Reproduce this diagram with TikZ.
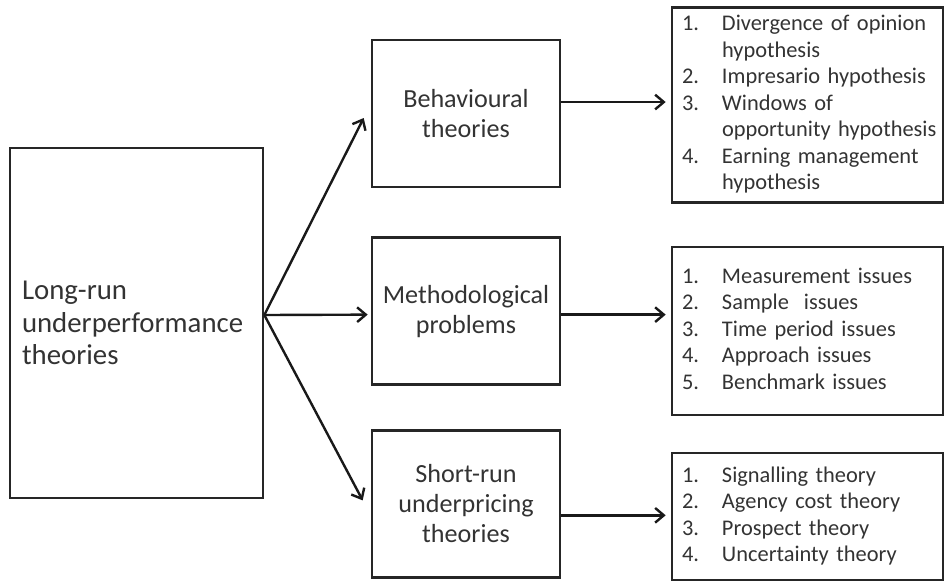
\documentclass[tikz,border=0pt]{standalone}
\usepackage{fontspec}
\setmainfont{Carlito}
\usetikzlibrary{arrows.meta, positioning}

\begin{document}
\begin{tikzpicture}[x=0.75pt, y=-0.75pt,
    mainbox/.style={rectangle, draw=black!85, line width=2pt, text=black!80, minimum width=189.75pt, minimum height=262.5pt, text width=171.75pt, inner xsep=9pt, align=left, font=\fontsize{21.6}{24.4}\selectfont},
    theory/.style={rectangle, draw=black!85, line width=2pt, text=black!80, minimum width=141pt, minimum height=110.25pt, align=center, font=\fontsize{19.6}{22.5}\selectfont},
    listbox/.style={rectangle, draw=black!85, line width=2pt, text=black!80, minimum width=203.25pt, text width=188.25pt, inner xsep=7.5pt, align=left, font=\fontsize{16.8}{19.9}\selectfont},
    link/.style={draw=black!90, line width=1.8pt, -{Straight Barb[length=6.5pt, width=11pt]}}
 ]

\useasboundingbox (0,0) rectangle (945,582);

\node[mainbox] (LongRun) at (136.5,323) {Long-run\\underperformance\\theories};

\node[theory] (Behavioural) at (466,113.5) {Behavioural\\theories};
\node[theory, below=36pt of Behavioural] (Methodological) {Methodological\\problems};
\node[theory, below=32.25pt of Methodological] (ShortRun) {Short-run\\underpricing\\theories};

\node[listbox, minimum height=145.5pt] (BehaviouralList) at (807.5,105) {\begin{tabular}{@{}p{30pt}@{}l@{}}
1. & Divergence of opinion\\
   & hypothesis\\
2. & Impresario hypothesis\\
3. & Windows of\\
   & opportunity hypothesis\\
4. & Earning management\\
   & hypothesis
\end{tabular}};
\node[listbox, minimum height=126pt] (MethodList) at (807.5,331) {\begin{tabular}{@{}p{30pt}@{}l@{}}
1. & Measurement issues\\
2. & Sample~ issues\\
3. & Time period issues\\
4. & Approach issues\\
5. & Benchmark issues
\end{tabular}};
\node[listbox, minimum height=95.25pt] (ShortRunList) at (807.5,516.5) {\begin{tabular}{@{}p{30pt}@{}l@{}}
1. & Signalling theory\\
2. & Agency cost theory\\
3. & Prospect theory\\
4. & Uncertainty theory
\end{tabular}};

\coordinate (Fork) at ([yshift=6pt]LongRun.east);
\draw[link] (Fork) -- ([xshift=-5.25pt, yshift=-3.4pt]Behavioural.west);
\draw[link] (Fork) -- ([xshift=-2.25pt, yshift=-2.6pt]Methodological.west);
\draw[link] (Fork) -- ([xshift=-6pt, yshift=2.6pt]ShortRun.west);

\draw[link] ([yshift=8.6pt]Behavioural.east) -- ([xshift=-3.75pt, yshift=8.6pt]Behavioural.east -| BehaviouralList.west);
\draw[link] ([yshift=-2.6pt]Methodological.east) -- ([xshift=-3.75pt, yshift=-2.6pt]Methodological.east -| MethodList.west);
\draw[link] ([yshift=-8.6pt]ShortRun.east) -- ([xshift=-3.75pt, yshift=-8.6pt]ShortRun.east -| ShortRunList.west);

\end{tikzpicture}
\end{document}
